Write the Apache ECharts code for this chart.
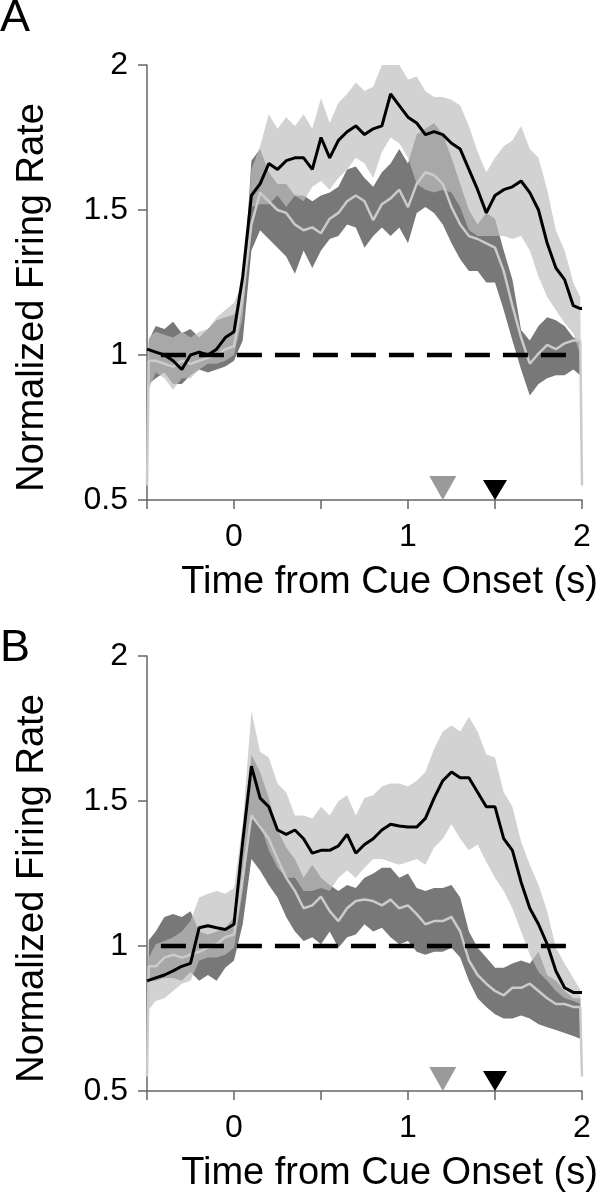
<!DOCTYPE html>
<html>
<head>
<meta charset="utf-8">
<script src="https://cdn.jsdelivr.net/npm/echarts@6/dist/echarts.min.js"></script>
<style>
  html, body { margin: 0; padding: 0; background: #fff; }
  #chart { width: 602px; height: 1200px; }
</style>
</head>
<body>
<div id="chart"></div>
<script>
// time axis (s from cue onset)
var times = [-0.5, -0.49, -0.45, -0.4, -0.35, -0.3, -0.25, -0.2, -0.15, -0.1, -0.05, 0,
  0.05, 0.1, 0.15, 0.2, 0.25, 0.3, 0.35, 0.4, 0.45, 0.5, 0.55, 0.6, 0.65, 0.7, 0.75,
  0.8, 0.85, 0.9, 0.95, 1.0, 1.05, 1.1, 1.15, 1.2, 1.25, 1.3, 1.35, 1.4, 1.45, 1.5,
  1.55, 1.6, 1.65, 1.7, 1.75, 1.8, 1.85, 1.9, 1.95, 1.99, 2.0];

var xTicks = [-0.5, 0, 0.5, 1, 1.5, 2];
var yTicks = [0.5, 1, 1.5, 2];

// ---- panel A ----
var blackA = [1.02, 1.02, 1.01, 1.0, 0.98, 0.95, 1.0, 1.01, 1.0, 1.02, 1.06, 1.08,
  1.27, 1.55, 1.59, 1.66, 1.64, 1.67, 1.68, 1.68, 1.64, 1.75, 1.68, 1.74, 1.77, 1.79, 1.76,
  1.78, 1.79, 1.9, 1.86, 1.82, 1.8, 1.76, 1.77, 1.76, 1.73, 1.71, 1.64, 1.57, 1.49, 1.55,
  1.57, 1.58, 1.6, 1.56, 1.5, 1.385, 1.3, 1.26, 1.17, 1.16, 1.16];
var blackHiA = [0.62, 1.06, 1.08, 1.07, 1.06, 1.08, 1.06, 1.08, 1.09, 1.13, 1.155, 1.18,
  1.25, 1.64, 1.72, 1.83, 1.78, 1.82, 1.79, 1.83, 1.78, 1.885, 1.8, 1.87, 1.9, 1.94, 1.91,
  1.925, 2.0, 2.0, 2.0, 1.95, 1.96, 1.91, 1.89, 1.89, 1.88, 1.86, 1.79, 1.7, 1.63, 1.68,
  1.72, 1.74, 1.79, 1.71, 1.68, 1.57, 1.43, 1.36, 1.25, 1.2, 0.6];
var blackLoA = [0.58, 0.88, 0.94, 0.92, 0.88, 0.92, 0.92, 0.95, 0.97, 0.97, 0.98, 1.0,
  1.13, 1.51, 1.52, 1.52, 1.55, 1.51, 1.55, 1.53, 1.58, 1.6, 1.57, 1.61, 1.64, 1.68, 1.66,
  1.61, 1.7, 1.75, 1.73, 1.68, 1.59, 1.57, 1.56, 1.57, 1.56, 1.51, 1.43, 1.41, 1.41, 1.41,
  1.41, 1.4, 1.41, 1.36, 1.27, 1.2, 1.155, 1.11, 1.075, 1.0, 0.55];
var grayA = [0.55, 0.98, 0.98, 0.97, 0.96, 0.98, 0.97, 0.98, 0.99, 1.0, 1.02, 1.03,
  1.2, 1.45, 1.56, 1.53, 1.5, 1.49, 1.45, 1.43, 1.44, 1.42, 1.47, 1.49, 1.53, 1.55, 1.53,
  1.465, 1.52, 1.54, 1.57, 1.51, 1.59, 1.63, 1.62, 1.59, 1.51, 1.45, 1.41, 1.4, 1.385, 1.37,
  1.29, 1.17, 1.06, 0.97, 1.005, 1.035, 1.02, 1.04, 1.05, 1.05, 0.55];
var grayHiA = [0.62, 1.05, 1.1, 1.09, 1.115, 1.075, 1.09, 1.06, 1.09, 1.12, 1.13, 1.14,
  1.2, 1.67, 1.71, 1.63, 1.59, 1.59, 1.55, 1.55, 1.53, 1.55, 1.56, 1.58, 1.64, 1.65, 1.61,
  1.58, 1.63, 1.66, 1.71, 1.66, 1.76, 1.78, 1.8, 1.76, 1.68, 1.59, 1.5, 1.45, 1.49, 1.47,
  1.36, 1.26, 1.086, 1.05, 1.1, 1.13, 1.12, 1.1, 1.06, 1.05, 0.56];
var grayLoA = [0.55, 0.9, 0.92, 0.94, 0.9, 0.9, 0.93, 0.95, 0.94, 0.95, 0.96, 0.98,
  1.05, 1.36, 1.43, 1.4, 1.37, 1.34, 1.28, 1.36, 1.3, 1.36, 1.4, 1.41, 1.45, 1.44, 1.37,
  1.41, 1.44, 1.41, 1.44, 1.385, 1.49, 1.51, 1.49, 1.45, 1.385, 1.33, 1.29, 1.29, 1.25, 1.25,
  1.155, 1.05, 0.95, 0.86, 0.9, 0.92, 0.93, 0.93, 0.95, 0.93, 0.55];

// ---- panel B ----
var blackB = [0.88, 0.88, 0.89, 0.9, 0.914, 0.93, 0.94, 1.063, 1.07, 1.063, 1.057, 1.075,
  1.36, 1.62, 1.51, 1.48, 1.4, 1.385, 1.4, 1.37, 1.32, 1.33, 1.33, 1.345, 1.385, 1.32, 1.35,
  1.37, 1.4, 1.42, 1.414, 1.41, 1.41, 1.44, 1.51, 1.57, 1.6, 1.58, 1.58, 1.53, 1.48, 1.48,
  1.37, 1.33, 1.22, 1.13, 1.075, 1.006, 0.914, 0.856, 0.84, 0.84, 0.84];
var blackHiB = [0.6, 0.96, 1.006, 1.017, 1.03, 1.05, 1.086, 1.167, 1.18, 1.19, 1.18, 1.2,
  1.42, 1.81, 1.67, 1.65, 1.56, 1.53, 1.45, 1.45, 1.44, 1.48, 1.45, 1.5, 1.52, 1.45, 1.51,
  1.52, 1.55, 1.56, 1.56, 1.55, 1.57, 1.6, 1.68, 1.74, 1.76, 1.74, 1.79, 1.74, 1.66, 1.65,
  1.53, 1.48, 1.36, 1.28, 1.21, 1.12, 0.994, 0.94, 0.89, 0.85, 0.55];
var blackLoB = [0.58, 0.78, 0.81, 0.82, 0.845, 0.87, 0.88, 0.95, 0.96, 0.96, 0.97, 0.994,
  1.19, 1.44, 1.42, 1.33, 1.27, 1.235, 1.235, 1.19, 1.19, 1.2, 1.19, 1.235, 1.26, 1.235, 1.27,
  1.3, 1.3, 1.29, 1.28, 1.29, 1.3, 1.28, 1.34, 1.37, 1.42, 1.37, 1.33, 1.35, 1.29, 1.235,
  1.19, 1.13, 1.05, 0.97, 0.91, 0.88, 0.845, 0.82, 0.81, 0.8, 0.55];
var grayB = [0.55, 0.93, 0.93, 0.96, 0.97, 0.96, 0.97, 0.98, 0.994, 1.006, 1.03, 1.04,
  1.235, 1.45, 1.41, 1.37, 1.3, 1.235, 1.19, 1.13, 1.14, 1.17, 1.12, 1.086, 1.13, 1.155, 1.16,
  1.155, 1.14, 1.16, 1.13, 1.14, 1.11, 1.075, 1.086, 1.086, 1.1, 1.05, 0.95, 0.9, 0.87, 0.845,
  0.83, 0.856, 0.856, 0.87, 0.845, 0.82, 0.8, 0.8, 0.79, 0.79, 0.55];
var grayHiB = [0.58, 1.02, 1.05, 1.1, 1.11, 1.1, 1.12, 1.05, 1.04, 1.05, 1.063, 1.1,
  1.3, 1.66, 1.6, 1.51, 1.4, 1.34, 1.3, 1.235, 1.28, 1.235, 1.21, 1.19, 1.21, 1.2, 1.235,
  1.25, 1.27, 1.27, 1.235, 1.25, 1.2, 1.19, 1.2, 1.2, 1.21, 1.167, 1.05, 0.994, 0.96, 0.925,
  0.925, 0.94, 0.95, 0.94, 0.98, 0.9, 0.88, 0.845, 0.82, 0.82, 0.55];
var grayLoB = [0.55, 0.88, 0.88, 0.89, 0.89, 0.88, 0.91, 0.88, 0.9, 0.88, 0.925, 0.95,
  1.075, 1.3, 1.26, 1.21, 1.167, 1.1, 1.05, 1.017, 1.03, 1.006, 1.05, 0.994, 1.03, 1.04, 1.075,
  1.05, 1.063, 1.03, 1.006, 1.017, 0.98, 0.97, 0.98, 0.98, 0.994, 0.96, 0.88, 0.82, 0.79, 0.765,
  0.75, 0.75, 0.76, 0.75, 0.73, 0.72, 0.71, 0.7, 0.69, 0.68, 0.55];

var baseline = [[-0.42, 1], [1.92, 1]];
var cueMarks = [1.2, 1.5];

var FONT = '"Liberation Sans", Arial, Helvetica, sans-serif';
var AXIS_COLOR = '#666';

function pairs(arr) {
  return times.map(function (t, i) { return [t, arr[i]]; });
}

// shaded band between lo and hi, drawn as one polygon through the axis scales
function bandSeries(idx, hi, lo, color, opacity) {
  return {
    type: 'custom', xAxisIndex: idx, yAxisIndex: idx, silent: true,
    data: times.map(function (t, i) { return [t, lo[i], hi[i]]; }),
    encode: { x: 0, y: [1, 2] },
    renderItem: function (params, api) {
      if (params.dataIndex !== 0) return null;
      var pts = [];
      for (var i = 0; i < times.length; i++) pts.push(api.coord([times[i], hi[i]]));
      for (var j = times.length - 1; j >= 0; j--) pts.push(api.coord([times[j], lo[j]]));
      return {
        type: 'polygon',
        shape: { points: pts },
        style: { fill: color, opacity: opacity }
      };
    }
  };
}

function panelSeries(idx, d) {
  var s = [];
  s.push(bandSeries(idx, d.grayHi, d.grayLo, '#787878', 1));
  s.push(bandSeries(idx, d.blackHi, d.blackLo, 'rgb(190,190,190)', 0.69));
  s.push({
    type: 'line', xAxisIndex: idx, yAxisIndex: idx, data: pairs(d.gray),
    symbol: 'none', lineStyle: { color: '#cbcbcb', width: 2.5 }
  });
  s.push({
    type: 'line', xAxisIndex: idx, yAxisIndex: idx, data: pairs(d.black),
    symbol: 'none', lineStyle: { color: '#000', width: 3 }
  });
  s.push({
    type: 'line', xAxisIndex: idx, yAxisIndex: idx, data: baseline,
    symbol: 'none', lineStyle: { color: '#000', width: 4.5, type: [25, 13] }
  });
  s.push({
    type: 'scatter', xAxisIndex: idx, yAxisIndex: idx, clip: false,
    data: [[cueMarks[0], 0.5]], symbol: 'triangle', symbolRotate: 180,
    symbolSize: [27, 24], symbolOffset: [0, -12],
    itemStyle: { color: '#9a9a9a', opacity: 1 }
  });
  s.push({
    type: 'scatter', xAxisIndex: idx, yAxisIndex: idx, clip: false,
    data: [[cueMarks[1], 0.5]], symbol: 'triangle', symbolRotate: 180,
    symbolSize: [24, 20], symbolOffset: [0, -10],
    itemStyle: { color: '#000', opacity: 1 }
  });
  return s;
}

function xAxisFor(idx) {
  return {
    type: 'value', gridIndex: idx, min: xTicks[0], max: xTicks[xTicks.length - 1], interval: 0.5,
    name: 'Time from Cue Onset (s)', nameLocation: 'middle', nameGap: 64,
    nameTextStyle: { fontSize: 38, color: '#000', fontFamily: FONT, padding: [0, 0, 0, 50] },
    axisLine: { show: true, onZero: false, lineStyle: { color: AXIS_COLOR, width: 1.5 } },
    axisTick: { show: true, length: 9, lineStyle: { color: AXIS_COLOR, width: 1.5 } },
    axisLabel: {
      fontSize: 32, color: '#000', fontFamily: FONT, margin: 21,
      formatter: function (v) { return Number.isInteger(v) ? String(v) : ''; }
    },
    splitLine: { show: false }
  };
}

function yAxisFor(idx) {
  return {
    type: 'value', gridIndex: idx, min: yTicks[0], max: yTicks[yTicks.length - 1], interval: 0.5,
    name: 'Normalized Firing Rate', nameLocation: 'middle', nameGap: 95,
    nameTextStyle: { fontSize: 38, color: '#000', fontFamily: FONT, padding: [0, 30, 0, 0] },
    axisLine: { show: true, onZero: false, lineStyle: { color: AXIS_COLOR, width: 1.5 } },
    axisTick: { show: true, length: 9, lineStyle: { color: AXIS_COLOR, width: 1.5 } },
    axisLabel: { fontSize: 32, color: '#000', fontFamily: FONT, margin: 19 },
    splitLine: { show: false }
  };
}

var chart = echarts.init(document.getElementById('chart'), null, { renderer: 'canvas' });

var series = panelSeries(0, {
  black: blackA, blackHi: blackHiA, blackLo: blackLoA,
  gray: grayA, grayHi: grayHiA, grayLo: grayLoA
}).concat(panelSeries(1, {
  black: blackB, blackHi: blackHiB, blackLo: blackLoB,
  gray: grayB, grayHi: grayHiB, grayLo: grayLoB
}));

chart.setOption({
  animation: false,
  backgroundColor: '#fff',
  grid: [
    { left: 147, top: 65, width: 435, height: 435 },
    { left: 147, top: 656, width: 435, height: 435 }
  ],
  xAxis: [xAxisFor(0), xAxisFor(1)],
  yAxis: [yAxisFor(0), yAxisFor(1)],
  graphic: [
    { type: 'text', left: 0, top: -4, style: { text: 'A', font: '45px ' + FONT, fill: '#000' } },
    { type: 'text', left: 0, top: 626, style: { text: 'B', font: '45px ' + FONT, fill: '#000' } }
  ],
  series: series
});

window.addEventListener('resize', function () { chart.resize(); });
</script>
</body>
</html>
